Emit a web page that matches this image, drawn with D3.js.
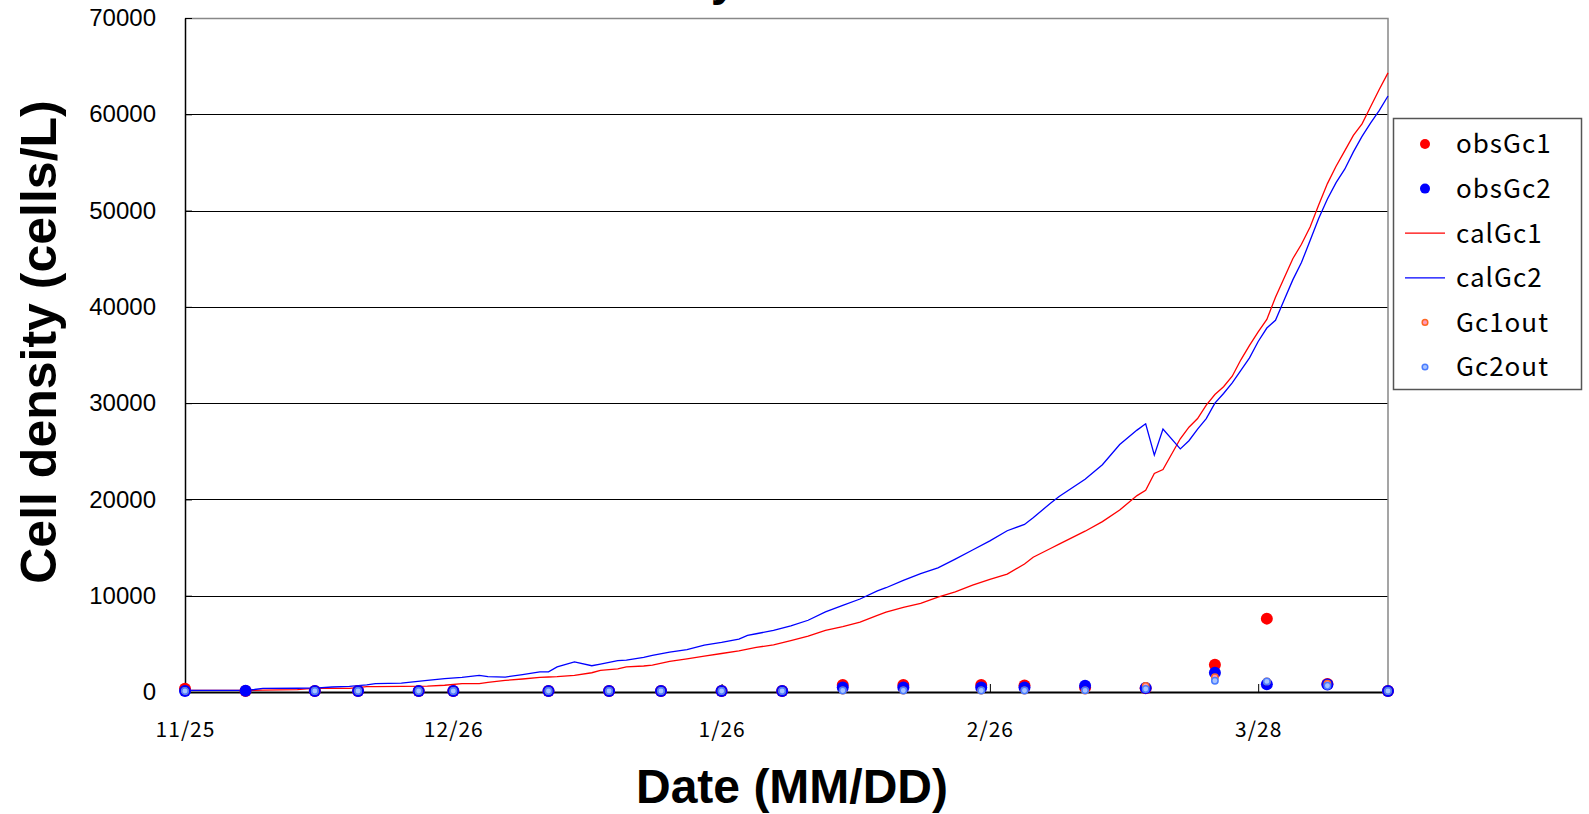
<!DOCTYPE html>
<html>
<head>
<meta charset="utf-8">
<script src="https://cdn.jsdelivr.net/npm/d3@7"></script>
<style>
  body { margin: 0; background: #fff; }
  svg { display: block; }
</style>
</head>
<body>
<div id="chart"></div>
<script>
// days counted from 11/25 (leap year, so 2/26 + 31 days = 3/28)
var startDate = new Date(2008 - 1, 10, 25);
var lastDay = 139;
var tickDays = [0, 31, 62, 93, 124];
var tickLabels = ["11/25", "12/26", "1/26", "2/26", "3/28"];
var yTicks = [0, 10000, 20000, 30000, 40000, 50000, 60000, 70000];

// observed samples
var obsDay = [0, 7, 15, 20, 27, 31, 42, 49, 55, 62, 69, 76, 83, 92, 97, 104, 111, 119, 125, 132, 139];
var obsGc1 = [340, 100, 100, 100, 100, 100, 100, 100, 100, 100, 100, 720, 720, 720, 680, 480, 400, 2830, 7620, 820, 100];
var obsGc2 = [100, 120, 100, 100, 100, 100, 100, 100, 100, 100, 100, 470, 470, 470, 470, 650, 420, 2000, 800, 780, 100];
var gc1out = [100, null, 100, 100, 100, 100, 100, 100, 100, 100, 100, 150, 150, 150, 150, 150, 620, 1530, 1100, 860, 100];
var gc2out = [100, null, 100, 100, 100, 100, 100, 100, 100, 100, 100, 150, 150, 150, 150, 170, 310, 1170, 1100, 650, 100];

// model output
var calDay = [0, 7, 8, 9, 13, 14, 15, 17, 19, 21, 22, 25, 28, 30, 32, 34, 35, 37, 39, 41, 42, 43, 45, 47, 48, 50, 51, 53, 54, 56, 58, 60, 62, 64, 65, 66, 68, 70, 72, 74, 76, 78, 80, 81, 83, 85, 87, 89, 91, 93, 95, 97, 98, 100, 101, 104, 106, 108, 110, 111, 112, 113, 115, 116, 117, 118, 119, 120, 121, 122, 123, 124, 125, 126, 127, 128, 129, 130, 131, 132, 133, 134, 135, 136, 137, 138, 139];
var calGc1 = [170, 170, 180, 190, 240, 330, 370, 370, 370, 550, 560, 580, 600, 700, 860, 860, 1000, 1200, 1350, 1520, 1560, 1600, 1730, 2000, 2250, 2400, 2600, 2700, 2800, 3180, 3450, 3720, 4000, 4280, 4450, 4630, 4900, 5340, 5800, 6400, 6800, 7250, 7950, 8300, 8800, 9200, 9850, 10400, 11100, 11700, 12250, 13300, 14000, 14900, 15350, 16700, 17700, 18900, 20400, 20950, 22700, 23100, 26300, 27500, 28400, 29800, 30900, 31700, 32800, 34500, 36000, 37400, 38700, 41000, 43000, 45000, 46500, 48300, 50600, 52800, 54600, 56200, 57800, 59000, 60800, 62600, 64300];
var calGc2 = [170, 170, 260, 370, 390, 400, 400, 520, 590, 750, 860, 930, 1210, 1380, 1520, 1730, 1600, 1550, 1800, 2080, 2100, 2600, 3120, 2730, 2900, 3250, 3320, 3600, 3800, 4150, 4400, 4870, 5150, 5500, 5880, 6050, 6400, 6880, 7450, 8330, 9000, 9660, 10500, 10830, 11600, 12300, 12900, 13800, 14750, 15700, 16750, 17400, 18100, 19600, 20300, 22100, 23600, 25700, 27200, 27850, 24600, 27300, 25250, 26100, 27300, 28400, 30000, 31000, 32100, 33400, 34700, 36400, 37800, 38600, 40700, 42800, 44600, 46900, 49200, 51200, 52900, 54300, 56100, 57700, 59100, 60400, 61900];

var legendNames = ["obsGc1", "obsGc2", "calGc1", "calGc2", "Gc1out", "Gc2out"];

var W = 1589, H = 814;
var margin = {top: 18, right: 201, bottom: 122, left: 185};
var width = W - margin.left - margin.right,
    height = H - margin.top - margin.bottom;

function dayDate(d) { return d3.timeDay.offset(startDate, d); }

var x = d3.scaleTime()
    .domain([dayDate(0), dayDate(lastDay)])
    .range([0, width]);

var y = d3.scaleLinear()
    .domain([0, 70000])
    .range([height, 0]);

var svg = d3.select("#chart").append("svg")
    .attr("width", W)
    .attr("height", H);

// title, mostly above the picture
svg.append("text")
    .attr("x", 468).attr("y", -5)
    .style("font-family", "'Liberation Sans', Arial, sans-serif")
    .style("font-weight", "bold").style("font-size", "48px")
    .text("Cell density");

var g = svg.append("g")
    .attr("transform", "translate(" + margin.left + "," + margin.top + ")");

// grid
g.append("g").selectAll("line")
    .data(yTicks.filter(function(d) { return d > 0 && d < 70000; }))
    .enter().append("line")
    .attr("x1", 0).attr("x2", width)
    .attr("y1", function(d) { return Math.round(y(d)) + 0.5; })
    .attr("y2", function(d) { return Math.round(y(d)) + 0.5; })
    .style("stroke", "#000").style("stroke-width", 1);

// top and right frame
g.append("path")
    .attr("d", "M0,0.5H" + width + "V" + height)
    .style("fill", "none").style("stroke", "#888").style("stroke-width", 1.5);

// y axis
var yAxis = g.append("g")
    .call(d3.axisLeft(y).tickValues(yTicks).tickFormat(d3.format("d"))
        .tickSizeInner(-7).tickSizeOuter(0).tickPadding(29));
yAxis.select(".domain").style("stroke", "#000").style("stroke-width", 1.5);
yAxis.selectAll(".tick line").style("stroke", "#000");
yAxis.selectAll("text")
    .style("font-family", "'Liberation Sans', Arial, sans-serif")
    .style("font-size", "24px").style("fill", "#000");

// x axis
var xAxis = g.append("g")
    .attr("transform", "translate(0," + height + ")")
    .call(d3.axisBottom(x)
        .tickValues(tickDays.map(dayDate))
        .tickFormat(function(d, i) { return tickLabels[i]; })
        .tickSizeInner(-8).tickSizeOuter(0).tickPadding(30));
xAxis.select(".domain").style("stroke", "#000").style("stroke-width", 2);
xAxis.selectAll(".tick line").style("stroke", "#000");
xAxis.selectAll("text")
    .style("font-family", "'Noto Sans CJK JP', sans-serif")
    .style("font-size", "21px").style("letter-spacing", "1px").style("fill", "#000");

// axis titles
svg.append("text")
    .attr("x", 792).attr("y", 803)
    .attr("text-anchor", "middle")
    .style("font-family", "'Liberation Sans', Arial, sans-serif")
    .style("font-weight", "bold").style("font-size", "48px")
    .text("Date (MM/DD)");

svg.append("text")
    .attr("transform", "translate(56,342) rotate(-90)")
    .attr("text-anchor", "middle")
    .style("font-family", "'Liberation Sans', Arial, sans-serif")
    .style("font-weight", "bold").style("font-size", "50px")
    .text("Cell density (cells/L)");

// model lines
var line = d3.line()
    .defined(function(d) { return d[1] != null; })
    .x(function(d) { return x(dayDate(d[0])); })
    .y(function(d) { return y(d[1]); });

function pairs(days, vals) { return days.map(function(d, i) { return [d, vals[i]]; }); }

g.append("path").datum(pairs(calDay, calGc1))
    .attr("d", line)
    .style("fill", "none").style("stroke", "#ff0000").style("stroke-width", 1.3);
g.append("path").datum(pairs(calDay, calGc2))
    .attr("d", line)
    .style("fill", "none").style("stroke", "#0000ff").style("stroke-width", 1.3);

// observed / out markers
var markers = [
  {vals: obsGc1, r: 6, fill: "#ff0000", stroke: "none", sw: 0},
  {vals: obsGc2, r: 6, fill: "#0000ff", stroke: "none", sw: 0},
  {vals: gc1out, r: 3.2, fill: "#ff99bb", stroke: "#ff6622", sw: 1.5},
  {vals: gc2out, r: 3.2, fill: "#a8c4ff", stroke: "#4a7cff", sw: 1.5}
];

markers.forEach(function(m) {
  g.append("g").selectAll("circle")
      .data(pairs(obsDay, m.vals).filter(function(d) { return d[1] != null; }))
      .enter().append("circle")
      .attr("cx", function(d) { return x(dayDate(d[0])); })
      .attr("cy", function(d) { return y(d[1]); })
      .attr("r", m.r)
      .style("fill", m.fill)
      .style("stroke", m.stroke)
      .style("stroke-width", m.sw);
});

// legend
var lg = svg.append("g");
lg.append("rect")
    .attr("x", 1393.5).attr("y", 118.5)
    .attr("width", 188).attr("height", 271)
    .style("fill", "#fff").style("stroke", "#555").style("stroke-width", 1.5);

var legY = d3.scalePoint().domain(legendNames).range([144, 367]);
var legendKinds = [markers[0], markers[1], {line: "#ff0000"}, {line: "#0000ff"}, markers[2], markers[3]];

legendNames.forEach(function(name, i) {
  var k = legendKinds[i], yy = legY(name);
  if (k.line) {
    lg.append("line")
        .attr("x1", 1405).attr("x2", 1445)
        .attr("y1", yy).attr("y2", yy)
        .style("stroke", k.line).style("stroke-width", 1.3);
  } else {
    lg.append("circle")
        .attr("cx", 1425).attr("cy", yy).attr("r", k.r === 6 ? 5 : 2.8)
        .style("fill", k.fill).style("stroke", k.stroke).style("stroke-width", k.sw);
  }
  lg.append("text")
      .attr("x", 1456).attr("y", yy)
      .attr("dy", "0.36em")
      .style("font-family", "'Noto Sans CJK JP', sans-serif")
      .style("font-size", "26px").style("letter-spacing", "1px")
      .text(name);
});
</script>
</body>
</html>
